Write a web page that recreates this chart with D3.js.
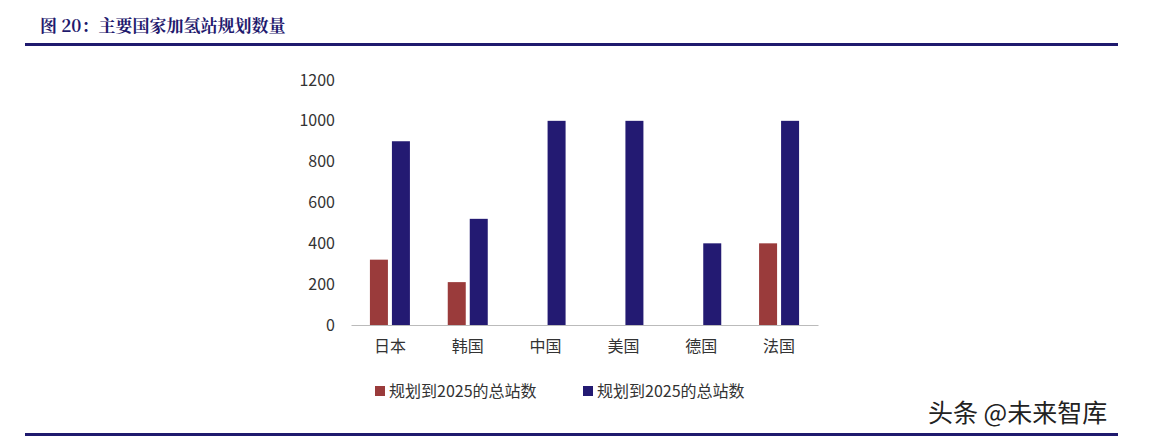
<!DOCTYPE html>
<html><head><meta charset="utf-8">
<script src="https://cdn.jsdelivr.net/npm/d3@7"></script>
<style>body{margin:0;background:#fff}</style>
</head><body>
<svg id="c" width="1176" height="445"></svg>
<script>
var categories = ["日本","韩国","中国","美国","德国","法国"];
var seriesNames = ["规划到2025的总站数","规划到2025的总站数"];
var series1 = [320,210,0,0,0,400];
var series2 = [900,520,1000,1000,400,1000];
var yTicks = [0,200,400,600,800,1000,1200];
var colors = ["#9a3b3b","#231a72"];

var svg = d3.select("#c");
var font = "'Noto Sans CJK SC', sans-serif";

svg.append("text").attr("x",40).attr("y",32).attr("fill","#1f1a6e")
  .attr("font-family","'Noto Serif CJK SC','Noto Sans CJK SC',serif").attr("font-weight","bold").attr("font-size",17)
  .text("图 20：主要国家加氢站规划数量");
svg.append("rect").attr("x",25).attr("y",43).attr("width",1093).attr("height",3).attr("fill","#1f1a6e");
svg.append("rect").attr("x",25).attr("y",433).attr("width",1093).attr("height",3).attr("fill","#1f1a6e");

var x = d3.scaleBand().domain(categories).range([351,818]);
var y = d3.scaleLinear().domain([0,1200]).range([325,80]);

var yAxis = svg.append("g").attr("transform","translate(351,0)")
  .call(d3.axisLeft(y).tickValues(yTicks).tickFormat(d3.format("d")).tickSize(0).tickPadding(16));
yAxis.select(".domain").remove();
yAxis.selectAll("text").attr("font-family",font).attr("font-size",16).attr("fill","#333");

var xAxis = svg.append("g").attr("transform","translate(0,325)")
  .call(d3.axisBottom(x).tickSize(0).tickPadding(16));
xAxis.select(".domain").attr("stroke","#bbb");
xAxis.selectAll("text").attr("font-family",font).attr("font-size",16).attr("fill","#333");

var bw = 18, gap = 4;
[series1, series2].forEach(function(s, i){
  svg.append("g").selectAll("rect").data(s).enter().append("rect")
    .attr("x", function(d,j){ var c = x(categories[j]) + x.bandwidth()/2; return i==0 ? c-gap/2-bw : c+gap/2; })
    .attr("y", function(d){ return y(d); })
    .attr("width", bw)
    .attr("height", function(d){ return 325 - y(d); })
    .attr("fill", colors[i]);
});

var lx = [375, 583];
seriesNames.forEach(function(n,i){
  svg.append("rect").attr("x",lx[i]).attr("y",386).attr("width",10).attr("height",10).attr("fill",colors[i]);
  svg.append("text").attr("x",lx[i]+14).attr("y",397).attr("font-family",font).attr("font-size",16).attr("fill","#333").text(n);
});

svg.append("text").attr("x",928).attr("y",422).attr("font-family",font).attr("font-size",25).attr("fill","#222").text("头条 @未来智库");
</script>
</body></html>
